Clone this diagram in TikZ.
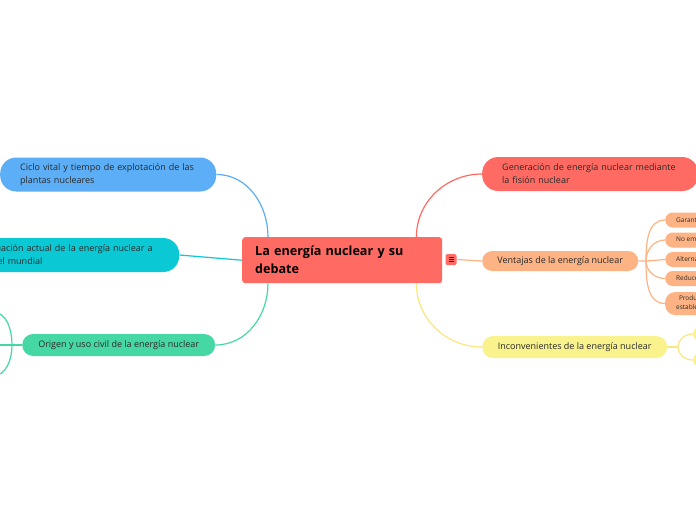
\documentclass[tikz,border=0pt]{standalone}
\usepackage{fontspec}
\setmainfont{Open Sans}
\definecolor{mmred}{HTML}{FF6B63}
\definecolor{mmblue}{HTML}{5CAEF6}
\definecolor{mmcyan}{HTML}{0BC9D4}
\definecolor{mmgreen}{HTML}{45D8A4}
\definecolor{mmorange}{HTML}{FDB384}
\definecolor{mmyellow}{HTML}{F9F28D}
\definecolor{mmtext}{HTML}{2A2A2A}
\usetikzlibrary{positioning,calc}

\begin{document}
\begin{tikzpicture}[x=1pt,y=-1pt,
  every node/.style={font=\fontsize{9}{13}\selectfont,text=mmtext},
  topic/.style={anchor=west,rounded corners=11pt,minimum height=22pt,
                inner xsep=14pt,inner ysep=0pt,align=center},
  bigtopic/.style={anchor=west,rounded corners=16pt,minimum height=34pt,
                inner xsep=20pt,inner ysep=0pt,align=left},
  subtopic/.style={anchor=west,rounded corners=7.5pt,minimum height=15pt,
                inner xsep=11pt,inner ysep=0pt,align=center,
                font=\fontsize{6.5}{9}\selectfont},
  link/.style={line width=1.2pt}]
  \useasboundingbox (0,0) rectangle (696,520);
  \fill[white] (0,0) rectangle (696,520);
  \clip (0,0) rectangle (696,520);

  %% central topic
  \node[anchor=north west,fill=mmred,rounded corners=3pt,
        minimum width=200pt,minimum height=46pt,inner xsep=13pt,inner ysep=0pt,
        text width=174pt,align=left,text=black,
        font=\fontsize{12.6}{18}\selectfont\bfseries] (central) at (242,237)
        {La energía nuclear y su\\debate};
  \node[fill=mmred,rounded corners=1.5pt,minimum size=11pt,inner sep=0pt]
        (menu) at (451,259.5) {};
  \foreach \dy in {-2.2,0,2.2}
    \draw[mmtext,line width=0.6pt] ($(menu.center)+(-2.5,\dy)$) -- ($(menu.center)+(2.5,\dy)$);

  %% left side
  \node[bigtopic,fill=mmblue,text width=176pt] (ciclo) at (0,174.5)
        {Ciclo vital y tiempo de explotación de las\\plantas nucleares};
  \node[bigtopic,fill=mmcyan,text width=174pt] (situacion) at (-35,255)
        {Situación actual de la energía nuclear a\\nivel mundial};
  \node[topic,fill=mmgreen,minimum width=193pt] (origen) at (22,345)
        {Origen y uso civil de la energía nuclear};

  %% right side
  \node[bigtopic,fill=mmred,text width=176pt] (fision) at (482,174)
        {Generación de energía nuclear mediante\\la fisión nuclear};
  \node[topic,fill=mmorange,minimum width=156pt,minimum height=20pt,
        rounded corners=10pt] (ventajas) at (482,261)
        {Ventajas de la energía nuclear};
  \node[topic,fill=mmyellow,minimum width=185pt] (inconv) at (482,347)
        {Inconvenientes de la energía nuclear};

  %% ventajas
  \node[subtopic,fill=mmorange] (v1) at (665,220) {Garantiza el suministro eléctrico};
  \node[subtopic,fill=mmorange] (v2) at (665,240) {No emite gases de efecto invernadero};
  \node[subtopic,fill=mmorange] (v3) at (665,259.5) {Alternativa a los combustibles fósiles};
  \node[subtopic,fill=mmorange] (v4) at (665,278.5) {Reduce la dependencia energética};
  \node[subtopic,fill=mmorange,minimum height=23pt,rounded corners=10pt] (v5) at (665,303.5)
        {Produce energía\\estable y continua};

  %% inconvenientes
  \node[subtopic,fill=mmyellow,minimum width=60pt] (i1) at (693,334) {};
  \node[subtopic,fill=mmyellow,minimum width=60pt] (i2) at (693,360) {};

  %% origen (off the page)
  \coordinate (o1) at (-8,312);
  \coordinate (o2) at (-8,345);
  \coordinate (o3) at (-8,376);

  %% connectors
  \draw[link,mmblue] (ciclo.east) to[out=0,in=90] ($(central.north west)+(26,0)$);
  \draw[link,mmcyan] (situacion.east) -- (central.west);
  \draw[link,mmgreen] (origen.east) to[out=0,in=-90] ($(central.south west)+(26,0)$);
  \draw[link,mmred] (fision.west) to[out=180,in=90] ($(central.north east)+(-26,0)$);
  \draw[link,mmyellow!90!orange] (inconv.west) to[out=180,in=-90] ($(central.south east)+(-26,0)$);
  \draw[link,mmorange] (menu.east) -- (ventajas.west);

  \coordinate (vb) at (646,261);
  \draw[link,mmorange] (ventajas.east) -- (vb) -- (v3.west);
  \foreach \v in {v1,v2}
    \draw[link,mmorange] (vb) to[out=90,in=180] (\v.west);
  \foreach \v in {v4,v5}
    \draw[link,mmorange] (vb) to[out=-90,in=180] (\v.west);

  \coordinate (ib) at (678,347);
  \draw[link,mmyellow!90!orange] (inconv.east) -- (ib);
  \draw[link,mmyellow!90!orange] (ib) to[out=90,in=180] (i1.west);
  \draw[link,mmyellow!90!orange] (ib) to[out=-90,in=180] (i2.west);

  \coordinate (ob) at (12,345);
  \draw[link,mmgreen] (origen.west) -- (ob) -- (o2);
  \draw[link,mmgreen] (ob) to[out=90,in=0] (o1);
  \draw[link,mmgreen] (ob) to[out=-90,in=0] (o3);
\end{tikzpicture}
\end{document}
